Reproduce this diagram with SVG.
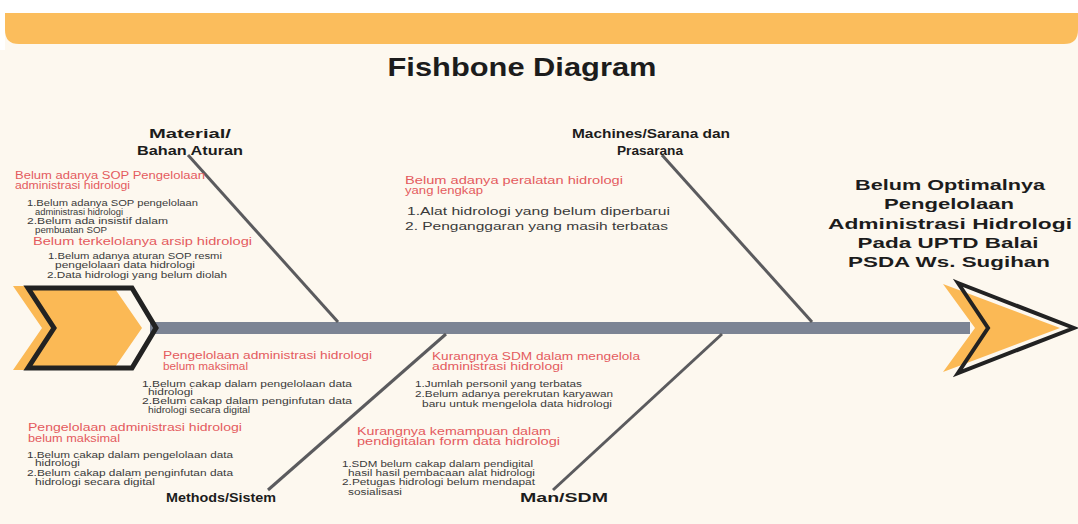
<svg xmlns="http://www.w3.org/2000/svg" width="1078" height="524" viewBox="0 0 1078 524">
<style>
text{font-family:"Liberation Sans",Arial,sans-serif}
.r{font-size:10px;fill:#e45b5e}
.d{font-size:8.5px;fill:#3a3a3a}
.lbl{font-size:13px;font-weight:bold;fill:#1c1c1c}
.hd{font-size:15.5px;font-weight:bold;fill:#1c1c1c}
.bone{stroke:#5b5b5e;stroke-width:3;fill:none}
.or{fill:#fbb955}
.ol{fill:none;stroke:#222;stroke-linejoin:miter}
</style>
<rect x="0" y="0" width="1078" height="524" fill="#fdf8ef"/>
<rect x="0" y="0" width="1078" height="13" fill="#ffffff"/>
<rect x="0" y="0" width="5" height="50" fill="#ffffff"/>
<path d="M5,13 H1078 V30 Q1078,44 1064,44 H19 Q5,44 5,30 Z" fill="#fbbd5c"/>
<text x="522" y="76" text-anchor="middle" font-size="26" font-weight="bold" fill="#1c1c1c" textLength="269" lengthAdjust="spacingAndGlyphs">Fishbone Diagram</text>

<g id="connectors">
<rect x="150" y="322" width="820" height="12" fill="#7c8494"/>
<line class="bone" x1="188" y1="155" x2="338" y2="322"/>
<line class="bone" x1="662" y1="155" x2="812" y2="322"/>
<line class="bone" x1="446" y1="334" x2="268" y2="490"/>
<line class="bone" x1="722" y1="334" x2="553" y2="490"/>
</g>

<g id="tail">
<polygon class="or" points="13,286 113,286 142,328 113,370 13,370 42,328"/>
<polygon class="ol" stroke-width="5" points="28,288 132,288 156,328 132,368 28,368 54,328"/>
</g>

<g id="head">
<polygon class="or" points="943,284 1060,328 943,372 975,328"/>
<polygon class="ol" stroke-width="4" points="958,283 1074,328 958,373 988,328"/>
<text class="hd" x="950" y="190" text-anchor="middle" textLength="190" lengthAdjust="spacingAndGlyphs">Belum Optimalnya</text>
<text class="hd" x="949" y="209" text-anchor="middle" textLength="130" lengthAdjust="spacingAndGlyphs">Pengelolaan</text>
<text class="hd" x="950" y="229" text-anchor="middle" textLength="244" lengthAdjust="spacingAndGlyphs">Administrasi Hidrologi</text>
<text class="hd" x="948" y="248" text-anchor="middle" textLength="181" lengthAdjust="spacingAndGlyphs">Pada UPTD Balai</text>
<text class="hd" x="949" y="267" text-anchor="middle" textLength="202" lengthAdjust="spacingAndGlyphs">PSDA Ws. Sugihan</text>
</g>

<g id="material">
<text class="lbl" x="190" y="138" text-anchor="middle" textLength="82" lengthAdjust="spacingAndGlyphs">Material/</text>
<text class="lbl" x="190" y="155" text-anchor="middle" textLength="106" lengthAdjust="spacingAndGlyphs">Bahan Aturan</text>
<text class="r" x="15" y="179" textLength="190" lengthAdjust="spacingAndGlyphs">Belum adanya SOP Pengelolaan</text>
<text class="r" x="15" y="189" textLength="115" lengthAdjust="spacingAndGlyphs">administrasi hidrologi</text>
<text class="d" x="27" y="206" textLength="171" lengthAdjust="spacingAndGlyphs">1.Belum adanya SOP pengelolaan</text>
<text class="d" x="35" y="215" textLength="88" lengthAdjust="spacingAndGlyphs">administrasi hidrologi</text>
<text class="d" x="27" y="224" textLength="141" lengthAdjust="spacingAndGlyphs">2.Belum ada insistif dalam</text>
<text class="d" x="35" y="233" textLength="72" lengthAdjust="spacingAndGlyphs">pembuatan SOP</text>
<text class="r" x="33" y="245" textLength="219" lengthAdjust="spacingAndGlyphs">Belum terkelolanya arsip hidrologi</text>
<text class="d" x="48" y="259" textLength="174" lengthAdjust="spacingAndGlyphs">1.Belum adanya aturan SOP resmi</text>
<text class="d" x="55" y="268" textLength="140" lengthAdjust="spacingAndGlyphs">pengelolaan data hidrologi</text>
<text class="d" x="47" y="278" textLength="180" lengthAdjust="spacingAndGlyphs">2.Data hidrologi yang belum diolah</text>
</g>

<g id="machines">
<text class="lbl" x="651" y="138" text-anchor="middle" textLength="158" lengthAdjust="spacingAndGlyphs">Machines/Sarana dan</text>
<text class="lbl" x="650" y="155" text-anchor="middle" textLength="66" lengthAdjust="spacingAndGlyphs">Prasarana</text>
<text class="r" x="405" y="184" textLength="218" lengthAdjust="spacingAndGlyphs">Belum adanya peralatan hidrologi</text>
<text class="r" x="405" y="194" textLength="78" lengthAdjust="spacingAndGlyphs">yang lengkap</text>
<text x="407" y="215" font-size="11" fill="#3a3a3a" textLength="263" lengthAdjust="spacingAndGlyphs">1.Alat hidrologi yang belum diperbarui</text>
<text x="405" y="230" font-size="11" fill="#3a3a3a" textLength="263" lengthAdjust="spacingAndGlyphs">2. Penganggaran yang masih terbatas</text>
</g>

<g id="methods">
<text class="r" x="163" y="359" textLength="209" lengthAdjust="spacingAndGlyphs">Pengelolaan administrasi hidrologi</text>
<text class="r" x="163" y="370" textLength="85" lengthAdjust="spacingAndGlyphs">belum maksimal</text>
<text class="d" x="142" y="387" textLength="210" lengthAdjust="spacingAndGlyphs">1.Belum cakap dalam pengelolaan data</text>
<text class="d" x="148" y="395" textLength="45" lengthAdjust="spacingAndGlyphs">hidrologi</text>
<text class="d" x="142" y="404" textLength="210" lengthAdjust="spacingAndGlyphs">2.Belum cakap dalam penginfutan data</text>
<text class="d" x="148" y="413" textLength="102" lengthAdjust="spacingAndGlyphs">hidrologi secara digital</text>
<text class="r" x="28" y="431" textLength="214" lengthAdjust="spacingAndGlyphs">Pengelolaan administrasi hidrologi</text>
<text class="r" x="28" y="442" textLength="92" lengthAdjust="spacingAndGlyphs">belum maksimal</text>
<text class="d" x="27" y="458" textLength="206" lengthAdjust="spacingAndGlyphs">1.Belum cakap dalam pengelolaan data</text>
<text class="d" x="35" y="466" textLength="45" lengthAdjust="spacingAndGlyphs">hidrologi</text>
<text class="d" x="27" y="476" textLength="206" lengthAdjust="spacingAndGlyphs">2.Belum cakap dalam penginfutan data</text>
<text class="d" x="35" y="485" textLength="120" lengthAdjust="spacingAndGlyphs">hidrologi secara digital</text>
<text class="lbl" x="221" y="502" text-anchor="middle" textLength="110" lengthAdjust="spacingAndGlyphs">Methods/Sistem</text>
</g>

<g id="man">
<text class="r" x="432" y="360" textLength="208" lengthAdjust="spacingAndGlyphs">Kurangnya SDM dalam mengelola</text>
<text class="r" x="432" y="370" textLength="131" lengthAdjust="spacingAndGlyphs">administrasi hidrologi</text>
<text class="d" x="415" y="387" textLength="167" lengthAdjust="spacingAndGlyphs">1.Jumlah personil yang terbatas</text>
<text class="d" x="415" y="397" textLength="198" lengthAdjust="spacingAndGlyphs">2.Belum adanya perekrutan karyawan</text>
<text class="d" x="422" y="407" textLength="190" lengthAdjust="spacingAndGlyphs">baru untuk mengelola data hidrologi</text>
<text class="r" x="357" y="435" textLength="194" lengthAdjust="spacingAndGlyphs">Kurangnya kemampuan dalam</text>
<text class="r" x="357" y="445" textLength="203" lengthAdjust="spacingAndGlyphs">pendigitalan form data hidrologi</text>
<text class="d" x="342" y="467" textLength="191" lengthAdjust="spacingAndGlyphs">1.SDM belum cakap dalam pendigital</text>
<text class="d" x="348" y="476" textLength="187" lengthAdjust="spacingAndGlyphs">hasil hasil pembacaan alat hidrologi</text>
<text class="d" x="342" y="485" textLength="193" lengthAdjust="spacingAndGlyphs">2.Petugas hidrologi belum mendapat</text>
<text class="d" x="348" y="495" textLength="54" lengthAdjust="spacingAndGlyphs">sosialisasi</text>
<text class="lbl" x="564" y="502" text-anchor="middle" textLength="88" lengthAdjust="spacingAndGlyphs">Man/SDM</text>
</g>
</svg>
